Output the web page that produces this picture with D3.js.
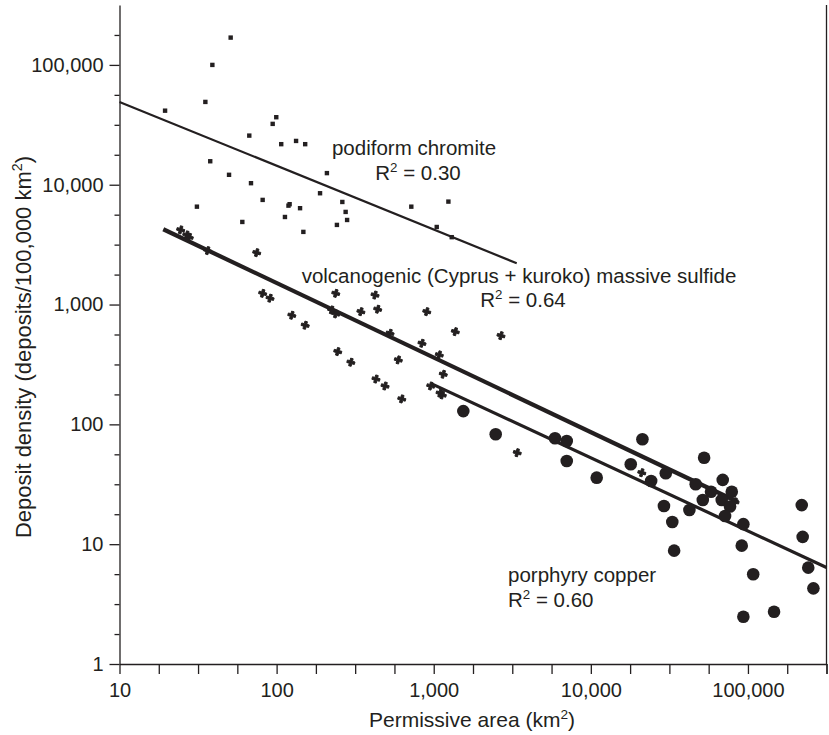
<!DOCTYPE html>
<html>
<head>
<meta charset="utf-8">
<script src="https://cdn.jsdelivr.net/npm/d3@7"></script>
<style>
    body { margin: 0; background: #fff; }
    text { font-family: "Liberation Sans", Arial, Helvetica, sans-serif; fill: #231f20; }
</style>
</head>
<body>
<div id="chart"></div>
<script>
// [permissive area (km2), deposits per 100,000 km2]
const chromite = [
    [19.5, 41500], [35.2, 49100], [39.0, 100000], [51.0, 169000], [37.8, 15700],
    [49.8, 12100], [67.0, 25700], [68.7, 10300], [31.1, 6560], [60.5, 4890],
    [81.5, 7470], [94.4, 32200], [99.5, 36600], [107, 21800], [119, 6690],
    [121, 6880], [113, 5380], [141, 6370], [133, 23200], [152, 21800],
    [148, 4040], [189, 8490], [209, 12500], [262, 7180], [275, 5930],
    [281, 5080], [242, 4620], [720, 6560], [1045, 4440], [1240, 7230], [1302, 3650]
];
const volcanogenic = [
    [24.5, 4200], [26.8, 3810], [27.8, 3650], [36.4, 2820], [74.7, 2710],
    [81.5, 1240], [90.8, 1130], [125, 814], [152, 672], [238, 1240],
    [423, 1200], [224, 901], [238, 835], [344, 872], [440, 914],
    [903, 872], [1372, 594], [2680, 550], [527, 576], [842, 475],
    [1085, 380], [245, 405], [297, 330], [595, 345], [1150, 262],
    [429, 239], [490, 209], [626, 163], [957, 209], [1097, 182],
    [1134, 176], [3400, 58], [21100, 39.5], [82800, 22.6]
];
const porphyry = [
    [1543, 129], [2480, 82.7], [5915, 76.6], [7025, 72.7], [7025, 49.5],
    [10900, 35.9], [21300, 75.1], [17950, 46.5], [24200, 33.7], [30000, 39.1],
    [52600, 52.7], [46500, 31.6], [58200, 27.4], [69100, 34.4], [78900, 27.4],
    [51600, 23.4], [68100, 23.4], [76900, 20.6], [71500, 17.2], [29200, 20.8],
    [42400, 19.3], [33000, 15.3], [33900, 8.83], [93500, 14.7], [91300, 9.72],
    [108000, 5.61], [220000, 21.2], [223000, 11.5], [242000, 6.37], [261000, 4.28],
    [93500, 2.48], [146600, 2.73]
];

// regression line end points
const chromiteFit = [[10, 49100], [3375, 2212]];
const volcanogenicFit = [[19.0, 4250], [86500, 22.5]];
const porphyryFit = [[957, 220], [316228, 6.39]];

const decades = [10, 100, 1000, 10000, 100000];
const yDecades = [1, 10, 100, 1000, 10000, 100000];

const width = 829;
const height = 735;
const margin = {top: 5, right: 2.5, bottom: 71, left: 119.5};

const svg = d3.select('#chart')
    .append('svg')
        .attr('width', width)
        .attr('height', height);

const x = d3.scaleLog()
    .domain([10, Math.pow(10, 5.5)])
    .range([margin.left, width - margin.right]);
const y = d3.scaleLog()
    .domain([1, Math.pow(10, 5.5)])
    .range([height - margin.bottom, margin.top]);

// quarter-decade ticks
const quarters = [1, Math.pow(10, 0.25), Math.pow(10, 0.5), Math.pow(10, 0.75)];
const xTicks = decades.flatMap(d => quarters.map(q => d * q)).concat([Math.pow(10, 5.5)]);
const yTicks = yDecades.flatMap(d => quarters.map(q => d * q)).filter(v => v <= Math.pow(10, 5.5));
const fmt = d3.format(',');

// x axis
const xAxisG = svg.append('g')
    .attr('transform', `translate(0, ${height - margin.bottom})`)
    .call(d3.axisBottom(x)
        .tickValues(xTicks)
        .tickSize(10)
        .tickSizeOuter(0)
        .tickPadding(9)
        .tickFormat(d => decades.includes(d) ? fmt(d) : ''));
xAxisG.selectAll('text').style('font-size', '20px');

// y axis, minor ticks shorter
const yAxisG = svg.append('g')
    .attr('transform', `translate(${margin.left}, 0)`)
    .call(d3.axisLeft(y)
        .tickValues(yTicks)
        .tickSize(10)
        .tickSizeOuter(0)
        .tickPadding(6)
        .tickFormat(d => yDecades.includes(d) ? fmt(d) : ''));
yAxisG.selectAll('text').style('font-size', '20px');
yAxisG.selectAll('.tick line')
    .attr('x2', d => yDecades.includes(d) ? -10 : -5);

svg.selectAll('.domain, .tick line')
    .attr('stroke', '#231f20')
    .attr('stroke-width', 1.3);

// right frame line
svg.append('line')
    .attr('x1', x(Math.pow(10, 5.5)))
    .attr('x2', x(Math.pow(10, 5.5)))
    .attr('y1', y(Math.pow(10, 5.5)))
    .attr('y2', y(1))
    .attr('stroke', '#231f20')
    .attr('stroke-width', 1.3);

// text with a superscript part
const addLabel = (px, py, anchor, size, before, sup, after) => {
    const t = svg.append('text')
        .attr('x', px)
        .attr('y', py)
        .attr('text-anchor', anchor)
        .style('font-size', size + 'px');
    t.append('tspan').text(before);
    t.append('tspan')
        .attr('dy', -size * 0.4)
        .style('font-size', (size * 0.65) + 'px')
        .text(sup);
    t.append('tspan')
        .attr('dy', size * 0.4)
        .text(after);
    return t;
};

addLabel(472, 727, 'middle', 21, 'Permissive area (km', '2', ')');
addLabel(0, 0, 'middle', 22, 'Deposit density (deposits/100,000 km', '2', ')')
    .attr('transform', 'translate(31, 347) rotate(-90)');

// fitted lines
const line = d3.line()
    .x(d => x(d[0]))
    .y(d => y(d[1]));
svg.append('path')
    .attr('d', line(chromiteFit))
    .attr('fill', 'none')
    .attr('stroke', '#231f20')
    .attr('stroke-width', 2.2);
svg.append('path')
    .attr('d', line(volcanogenicFit))
    .attr('fill', 'none')
    .attr('stroke', '#231f20')
    .attr('stroke-width', 4.2);
svg.append('path')
    .attr('d', line(porphyryFit))
    .attr('fill', 'none')
    .attr('stroke', '#231f20')
    .attr('stroke-width', 3.2);

// points
svg.append('g')
    .attr('fill', '#231f20')
    .selectAll('rect')
    .data(chromite)
    .join('rect')
        .attr('x', d => x(d[0]) - 2.2)
        .attr('y', d => y(d[1]) - 2.2)
        .attr('width', 4.4)
        .attr('height', 4.4);

const cross = d3.symbol().type(d3.symbolCross).size(34);
svg.append('g')
    .attr('fill', '#231f20')
    .attr('stroke', '#231f20')
    .attr('stroke-width', 0.9)
    .attr('stroke-linejoin', 'round')
    .selectAll('path')
    .data(volcanogenic)
    .join('path')
        .attr('transform', d => `translate(${x(d[0])}, ${y(d[1])}) rotate(15)`)
        .attr('d', cross);

svg.append('g')
    .attr('fill', '#231f20')
    .selectAll('circle')
    .data(porphyry)
    .join('circle')
        .attr('cx', d => x(d[0]))
        .attr('cy', d => y(d[1]))
        .attr('r', 6.3);

// series labels
svg.append('text')
    .attr('x', 414)
    .attr('y', 155)
    .attr('text-anchor', 'middle')
    .style('font-size', '20.5px')
    .text('podiform chromite');
addLabel(418, 180, 'middle', 20.5, 'R', '2', ' = 0.30');

svg.append('text')
    .attr('x', 519)
    .attr('y', 283)
    .attr('text-anchor', 'middle')
    .style('font-size', '20.5px')
    .text('volcanogenic (Cyprus + kuroko) massive sulfide');
addLabel(523, 307, 'middle', 20.5, 'R', '2', ' = 0.64');

svg.append('text')
    .attr('x', 508)
    .attr('y', 582)
    .style('font-size', '20.5px')
    .text('porphyry copper');
addLabel(508, 607, 'start', 20.5, 'R', '2', ' = 0.60');
</script>
</body>
</html>
